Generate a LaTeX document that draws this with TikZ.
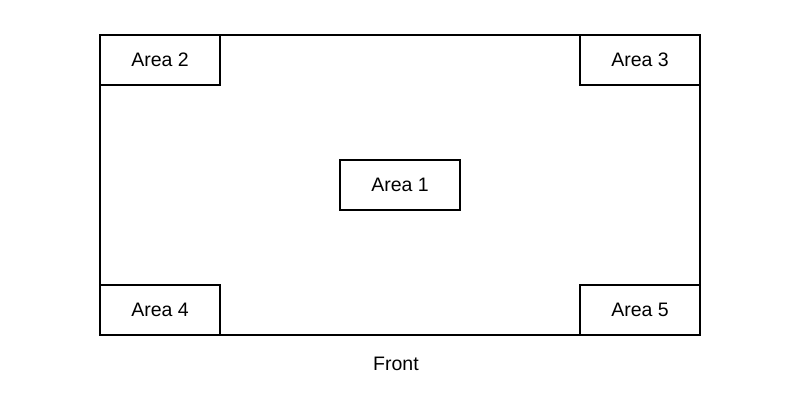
\documentclass[tikz,border=0pt]{standalone}
\usepackage{fontspec}
\setmainfont{Liberation Sans}
\usetikzlibrary{calc}

\begin{document}
\begin{tikzpicture}[x=1pt, y=1pt,
    area/.style={draw, line width=1.5pt, rectangle, minimum width=120pt, minimum height=50pt, inner sep=0pt, font=\fontsize{19.5}{22}\selectfont},
    floor/.style={draw, line width=1.5pt, rectangle, minimum width=600pt, minimum height=300pt, inner sep=0pt}]
\useasboundingbox (0,0) rectangle (800,400);
% Floor plan with the five areas
\node[floor] (plan) at (400,215) {};
\node[area] (A1) at (plan.center) {Area 1};
\node[area, anchor=north west] (A2) at (plan.north west) {Area 2};
\node[area, anchor=north east] (A3) at (plan.north east) {Area 3};
\node[area, anchor=south west] (A4) at (plan.south west) {Area 4};
\node[area, anchor=south east] (A5) at (plan.south east) {Area 5};
\node[font=\fontsize{19.5}{22}\selectfont] (front) at ($ (plan.south) + (-4,-28) $) {Front};
\end{tikzpicture}
\end{document}
